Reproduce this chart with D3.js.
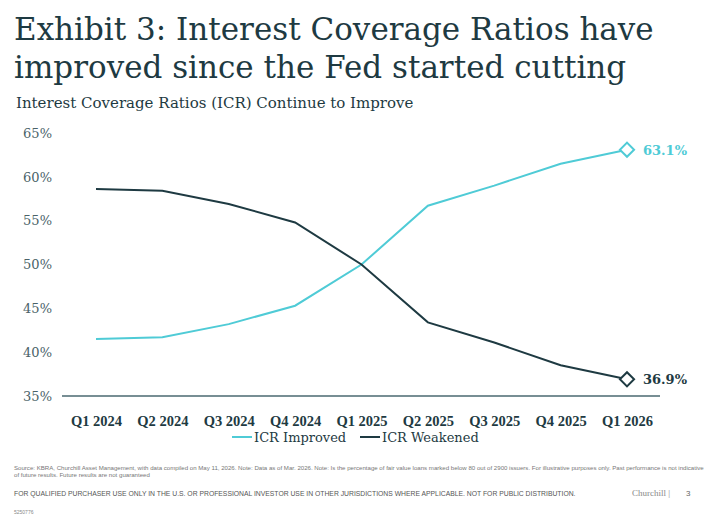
<!DOCTYPE html><html><head><meta charset="utf-8"><script src="https://cdn.jsdelivr.net/npm/d3@7"></script>
<style>body{margin:0;background:#fff}</style></head><body><svg id="c" width="720" height="525"></svg>
<script>
const categories=["Q1 2024","Q2 2024","Q3 2024","Q4 2024","Q1 2025","Q2 2025","Q3 2025","Q4 2025","Q1 2026"];
const improved=[41.5,41.7,43.2,45.3,50.0,56.7,59.0,61.5,63.1];
const weakened=[58.6,58.4,56.9,54.8,50.0,43.4,41.1,38.5,36.9];
const yTicks=[35,40,45,50,55,60,65];
const dark="#1e3a42", cyan="#4fcbd6", serif="'DejaVu Serif', serif", lserif="'Liberation Serif', serif", sans="'Liberation Sans', Arial, sans-serif";
const svg=d3.select("#c");
svg.append("text").attr("x",14).attr("y",40).attr("font-family",serif).attr("font-size",31).attr("fill",dark).text("Exhibit 3: Interest Coverage Ratios have");
svg.append("text").attr("x",14).attr("y",78).attr("font-family",serif).attr("font-size",31).attr("fill",dark).text("improved since the Fed started cutting");
svg.append("text").attr("x",16).attr("y",108).attr("font-family",serif).attr("font-size",15).attr("fill",dark).text("Interest Coverage Ratios (ICR) Continue to Improve");
const x=d3.scalePoint().domain(categories).range([96,627]);
const y=d3.scaleLinear().domain([35,65]).range([396,133]);
const yg=svg.append("g").attr("transform","translate(52,0)").call(d3.axisLeft(y).tickValues(yTicks).tickFormat(d=>d+"%").tickSize(0).tickPadding(0));
yg.select(".domain").remove();
yg.selectAll("text").attr("font-family",serif).attr("font-size",13).attr("fill","#4a6268");
svg.append("line").attr("x1",62).attr("x2",660).attr("y1",y(35)).attr("y2",y(35)).attr("stroke","#4a6870").attr("stroke-width",1.5);
const xg=svg.append("g").attr("transform","translate(0,"+(y(35)+20)+")").call(d3.axisBottom(x).tickSize(0).tickPadding(0));
xg.select(".domain").remove();
xg.selectAll("text").attr("font-family",lserif).attr("font-size",14.5).attr("font-weight","bold").attr("fill",dark);
const line=d3.line().x((d,i)=>x(categories[i])).y(d=>y(d));
[[improved,cyan],[weakened,dark]].forEach(([s,c])=>{
 svg.append("path").attr("d",line(s)).attr("fill","none").attr("stroke",c).attr("stroke-width",2);
 const last=s[s.length-1];
 svg.append("rect").attr("x",-5).attr("y",-5).attr("width",10).attr("height",10).attr("fill","#fff").attr("stroke",c).attr("stroke-width",2)
  .attr("transform",`translate(${x(categories[8])},${y(last)}) rotate(45)`);
 svg.append("text").attr("x",x(categories[8])+16).attr("y",y(last)+5).attr("font-family",serif).attr("font-size",13).attr("font-weight","bold").attr("fill",c).text(last.toFixed(1)+"%");
});
const lg=[["ICR Improved",cyan,232],["ICR Weakened",dark,360]];
lg.forEach(([t,c,lx])=>{
 svg.append("line").attr("x1",lx).attr("x2",lx+20).attr("y1",437).attr("y2",437).attr("stroke",c).attr("stroke-width",2);
 svg.append("text").attr("x",lx+22).attr("y",442).attr("font-family",serif).attr("font-size",13).attr("fill",dark).text(t);
});
svg.append("text").attr("x",14).attr("y",470).attr("font-family",sans).attr("font-size",6.1).attr("fill","#777").text("Source: KBRA, Churchill Asset Management, with data compiled on May 11, 2026. Note: Data as of Mar. 2026. Note: Is the percentage of fair value loans marked below 80 out of 2900 issuers. For illustrative purposes only. Past performance is not indicative");
svg.append("text").attr("x",14).attr("y",477).attr("font-family",sans).attr("font-size",6.1).attr("fill","#777").text("of future results. Future results are not guaranteed");
svg.append("text").attr("x",14).attr("y",496).attr("font-family",sans).attr("font-size",6.8).attr("fill","#555").text("FOR QUALIFIED PURCHASER USE ONLY IN THE U.S. OR PROFESSIONAL INVESTOR USE IN OTHER JURISDICTIONS WHERE APPLICABLE. NOT FOR PUBLIC DISTRIBUTION.");
svg.append("text").attr("x",632).attr("y",496).attr("font-family",lserif).attr("font-size",9).attr("fill","#888").text("Churchill |");
svg.append("text").attr("x",686).attr("y",496).attr("font-family",sans).attr("font-size",8).attr("fill","#666").text("3");
svg.append("text").attr("x",14).attr("y",514).attr("font-family",sans).attr("font-size",5).attr("fill","#888").text("5250776");
</script></body></html>
